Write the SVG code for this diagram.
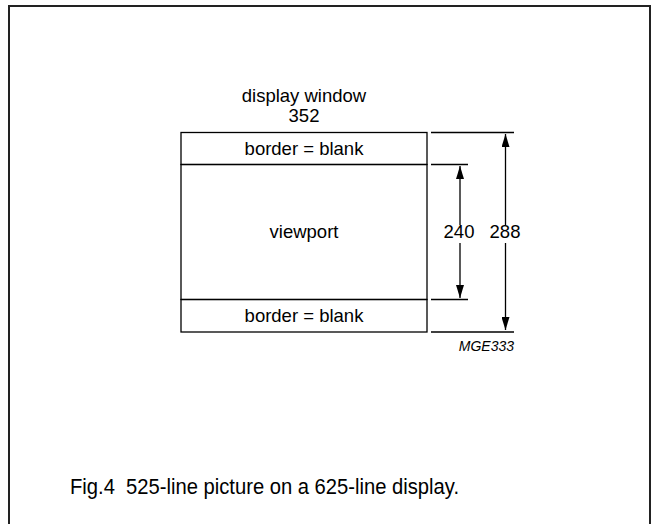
<svg xmlns="http://www.w3.org/2000/svg" width="651" height="524" viewBox="0 0 651 524">
<style>
text{font-family:"Liberation Sans",Arial,sans-serif;fill:#000}
.t{font-size:18.5px;text-anchor:middle}
.ln{stroke:#000;stroke-width:1.3;fill:none}
</style>
<defs>
<marker id="ah" viewBox="0 0 13 8" refX="13" refY="4" markerWidth="13" markerHeight="8" markerUnits="userSpaceOnUse" orient="auto">
<path d="M0,0 L13,4 L0,8 Z" fill="#000"/>
</marker>
</defs>
<rect x="0" y="0" width="651" height="524" fill="#fff"/>
<path d="M9,530 V6 H650 V530" fill="none" stroke="#222" stroke-width="2"/>
<g id="title">
<text class="t" x="304" y="102">display window</text>
<text class="t" x="304" y="122">352</text>
</g>
<g id="top-border">
<rect x="181" y="132.5" width="246" height="32" class="ln"/>
<text class="t" x="304" y="155">border = blank</text>
</g>
<g id="viewport">
<rect x="181" y="164.5" width="246" height="135" class="ln"/>
<text class="t" x="304" y="237.5">viewport</text>
</g>
<g id="bottom-border">
<rect x="181" y="299.5" width="246" height="32.5" class="ln"/>
<text class="t" x="304" y="322">border = blank</text>
</g>
<g id="connectors">
<line x1="431" y1="132.5" x2="514" y2="132.5" class="ln"/>
<line x1="431" y1="164.5" x2="468" y2="164.5" class="ln"/>
<line x1="431" y1="299.5" x2="468" y2="299.5" class="ln"/>
<line x1="431" y1="332" x2="514" y2="332" class="ln"/>
<line x1="460" y1="225" x2="460" y2="166" class="ln" marker-end="url(#ah)"/>
<line x1="460" y1="243" x2="460" y2="298" class="ln" marker-end="url(#ah)"/>
<line x1="505.5" y1="225" x2="505.5" y2="134" class="ln" marker-end="url(#ah)"/>
<line x1="505.5" y1="243" x2="505.5" y2="330" class="ln" marker-end="url(#ah)"/>
</g>
<g id="labels">
<text class="t" x="459" y="238">240</text>
<text class="t" x="505" y="238">288</text>
<text x="514" y="350.5" font-size="14" font-style="italic" text-anchor="end">MGE333</text>
<text x="70" y="494" font-size="22" textLength="389" lengthAdjust="spacingAndGlyphs" xml:space="preserve">Fig.4  525-line picture on a 625-line display.</text>
</g>
</svg>
